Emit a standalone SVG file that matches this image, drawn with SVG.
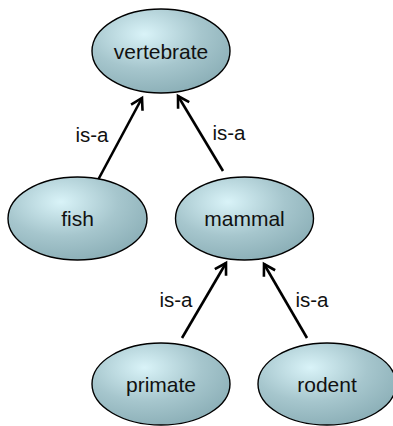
<svg xmlns="http://www.w3.org/2000/svg" width="393" height="426" viewBox="0 0 393 426">
  <defs>
    <radialGradient id="nodeFill" cx="0.38" cy="0.3" r="0.75" fx="0.38" fy="0.3">
      <stop offset="0" stop-color="#d9f3f8"/>
      <stop offset="0.55" stop-color="#a6c6cd"/>
      <stop offset="1" stop-color="#8aaeb6"/>
    </radialGradient>
    <marker id="head" markerUnits="userSpaceOnUse" markerWidth="20" markerHeight="20" viewBox="-14 -10 18 20" refX="0" refY="0" orient="auto">
      <path d="M-11,-6.5 L0,0 L-11,6.5" fill="none" stroke="#000" stroke-width="2.6" stroke-linejoin="miter" stroke-linecap="butt"/>
    </marker>
    <style>
      .node ellipse { fill: url(#nodeFill); stroke: #000; stroke-width: 1.4; }
      .node text { font-family: "Liberation Sans", Arial, sans-serif; font-size: 21px; fill: #111; text-anchor: middle; }
      .edge { stroke: #000; stroke-width: 2.6; fill: none; marker-end: url(#head); }
      .label { font-family: "Liberation Sans", Arial, sans-serif; font-size: 20.5px; fill: #111; text-anchor: middle; }
    </style>
  </defs>
  <rect width="393" height="426" fill="#fff"/>

  <g id="connectors">
    <line class="edge" x1="98" y1="180" x2="142" y2="98"/>
    <line class="edge" x1="223" y1="171" x2="178" y2="96"/>
    <line class="edge" x1="182" y1="338" x2="226" y2="263"/>
    <line class="edge" x1="307" y1="338" x2="264" y2="264"/>
    <text class="label" x="92" y="142">is-a</text>
    <text class="label" x="229" y="140">is-a</text>
    <text class="label" x="176" y="307">is-a</text>
    <text class="label" x="312" y="307">is-a</text>
  </g>

  <g id="vertebrate" class="node">
    <ellipse cx="161" cy="51" rx="69" ry="42"/>
    <text x="161" y="58.5">vertebrate</text>
  </g>
  <g id="fish" class="node">
    <ellipse cx="77.5" cy="218.5" rx="69.5" ry="41.5"/>
    <text x="77.5" y="226">fish</text>
  </g>
  <g id="mammal" class="node">
    <ellipse cx="244.5" cy="218.5" rx="69" ry="41.5"/>
    <text x="244.5" y="226">mammal</text>
  </g>
  <g id="primate" class="node">
    <ellipse cx="161" cy="384" rx="69" ry="41"/>
    <text x="161" y="391.5">primate</text>
  </g>
  <g id="rodent" class="node">
    <ellipse cx="327" cy="384" rx="69" ry="41"/>
    <text x="327" y="391.5">rodent</text>
  </g>
</svg>
